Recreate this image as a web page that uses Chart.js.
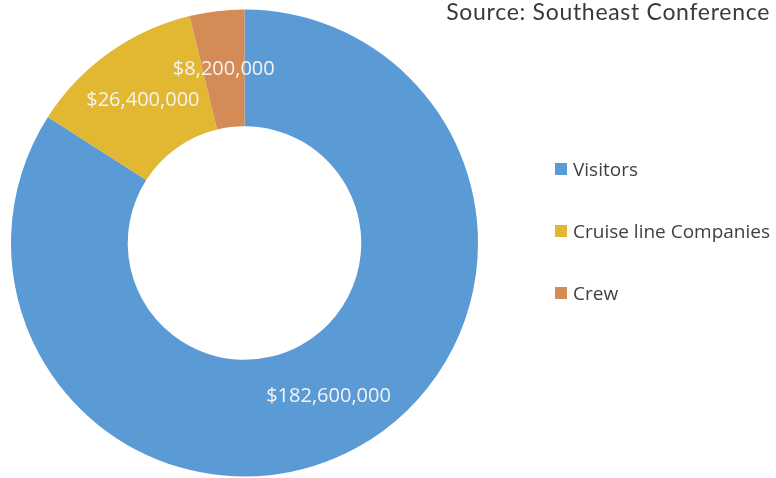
<!DOCTYPE html>
<html>
<head>
<meta charset="utf-8">
<script src="https://cdn.jsdelivr.net/npm/chart.js@4"></script>
<style>
  html, body { margin: 0; padding: 0; background: #fff; }
  #wrap { position: relative; width: 776px; height: 478px; overflow: hidden; }
  #chart { position: absolute; left: 0; top: 0; }
  #source {
    position: absolute; right: 6px; top: -3px; letter-spacing: 0.7px;
    font-family: "Lato", "Noto Sans", sans-serif; font-size: 23px; color: #3a3a3a;
  }
  #legend { position: absolute; left: 555px; top: 0; font-family: "Open Sans", sans-serif; font-size: 19px; color: #404040; }
  .item { position: absolute; left: 0; white-space: nowrap; display: flex; align-items: center; }
  .box { width: 12px; height: 12px; margin-right: 6px; }
</style>
</head>
<body>
<div id="wrap">
  <canvas id="chart" width="776" height="478"></canvas>
  <div id="source">Source: Southeast Conference</div>
  <div id="legend"></div>
</div>
<script>
const categories = ["Visitors", "Cruise line Companies", "Crew"];
const amounts = [182600000, 26400000, 8200000];
const sliceColors = ["#5B9BD5", "#E2B732", "#D48B55"];
const legendRows = [169, 231, 293];

// value labels drawn at each slice's middle, like the original
const sliceLabels = {
  id: "sliceLabels",
  afterDatasetsDraw(chart) {
    const ctx = chart.ctx;
    const meta = chart.getDatasetMeta(0);
    ctx.save();
    ctx.font = "20px 'Open Sans', sans-serif";
    ctx.fillStyle = "#f4f4f4";
    ctx.textAlign = "center";
    ctx.textBaseline = "middle";
    meta.data.forEach((arc, i) => {
      const pos = arc.tooltipPosition();
      ctx.fillText("$" + amounts[i].toLocaleString("en-US"), pos.x, pos.y);
    });
    ctx.restore();
  }
};

new Chart(document.getElementById("chart"), {
  type: "doughnut",
  data: {
    labels: categories,
    datasets: [{
      data: amounts,
      backgroundColor: sliceColors,
      borderWidth: 0
    }]
  },
  options: {
    responsive: false,
    animation: false,
    cutout: "50%",
    layout: { padding: { left: 11, right: 298, top: 9, bottom: 1 } },
    plugins: {
      legend: { display: false },
      tooltip: { enabled: false }
    }
  },
  plugins: [sliceLabels]
});

// legend on the right
const legend = document.getElementById("legend");
categories.forEach((name, i) => {
  const row = document.createElement("div");
  row.className = "item";
  row.style.top = (legendRows[i] - 13) + "px";
  row.innerHTML = '<span class="box" style="background:' + sliceColors[i] + '"></span>' + name;
  legend.appendChild(row);
});
</script>
</body>
</html>
